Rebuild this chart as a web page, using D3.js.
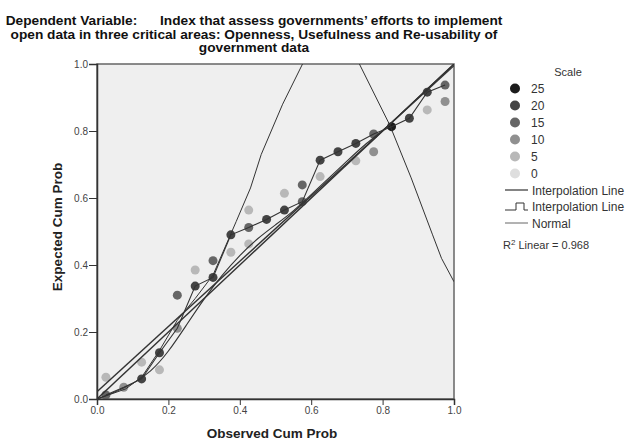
<!DOCTYPE html>
<html>
<head>
<meta charset="utf-8">
<script src="https://cdn.jsdelivr.net/npm/d3@7"></script>
<style>
  body { margin: 0; background: #fff; }
  svg { font-family: 'Liberation Sans', Arial, sans-serif; }
  .axis text { fill: #444; font-size: 10px; }
  .axis path, .axis line { stroke: #333; }
</style>
</head>
<body>
<div id="chart"></div>
<script>
'use strict';

// observed cum prob for each case
var obsX = [0.025, 0.075, 0.125, 0.175, 0.225, 0.275, 0.325, 0.375, 0.425, 0.475,
            0.525, 0.575, 0.625, 0.675, 0.725, 0.775, 0.825, 0.875, 0.925, 0.975];
// expected cum prob, linked series (joined by the marker line)
var linkY = [0.012, 0.035, 0.060, 0.138, 0.211, 0.337, 0.363, 0.490, 0.512, 0.536,
             0.564, 0.589, 0.713, 0.738, 0.763, 0.791, 0.813, 0.838, 0.916, 0.937];
var linkScale = [15, 10, 20, 20, 10, 20, 20, 20, 15, 20,
                 20, 15, 20, 20, 20, 15, 25, 20, 20, 15];
// loose points
var looseX = [0.025, 0.125, 0.175, 0.225, 0.275, 0.325, 0.375, 0.425, 0.425,
              0.525, 0.575, 0.625, 0.725, 0.775, 0.925, 0.975];
var looseY = [0.065, 0.110, 0.087, 0.310, 0.385, 0.413, 0.438, 0.463, 0.564,
              0.614, 0.639, 0.664, 0.711, 0.738, 0.863, 0.888];
var looseScale = [5, 5, 5, 15, 5, 15, 5, 5, 5,
                  5, 15, 5, 5, 10, 5, 10];

var normalX = [0, 0.08, 0.125, 0.175, 0.225, 0.275, 0.325, 0.39, 0.43, 0.46, 0.52, 0.585,
               0.66, 0.735, 0.82, 0.88, 0.94, 0.965, 1.0];
var normalY = [0, 0.03, 0.065, 0.145, 0.235, 0.30, 0.37, 0.53, 0.63, 0.73, 0.88, 1.02,
               1.12, 1.0, 0.818, 0.66, 0.49, 0.42, 0.35];

var smoothX = [0, 0.05, 0.1, 0.15, 0.2, 0.25, 0.3, 0.35, 0.4, 0.45, 0.5,
               0.55, 0.6, 0.65, 0.7, 0.75, 0.8, 0.85, 0.9, 0.95, 1];
var smoothY = [0, 0.02, 0.045, 0.08, 0.14, 0.22, 0.30, 0.37, 0.43, 0.48, 0.52,
               0.56, 0.61, 0.66, 0.71, 0.76, 0.80, 0.85, 0.90, 0.95, 1];

var fitX = [0, 1];
var fitY = [0.022, 0.995];
var diagX = [0, 1];
var diagY = [0, 1];

var scaleLevels = [25, 20, 15, 10, 5, 0];
var scaleColors = ['#1c1c1c', '#444', '#666', '#909090', '#b8b8b8', '#dedede'];
var ticks = [0, 0.2, 0.4, 0.6, 0.8, 1.0];

var titleLines = [
  'Dependent Variable:      Index that assess governments\u2019 efforts to implement',
  'open data in three critical areas: Openness, Usefulness and Re-usability of',
  'government data'
];

var svg = d3.select('#chart').append('svg')
    .attr('width', 633)
    .attr('height', 442);

var x = d3.scaleLinear().domain([0, 1]).range([97, 454]);
var y = d3.scaleLinear().domain([0, 1]).range([399, 64]);
var fill = d3.scaleOrdinal().domain(scaleLevels).range(scaleColors);

svg.append('defs').append('clipPath')
    .attr('id', 'plotclip')
  .append('rect')
    .attr('x', x(0)).attr('y', y(1))
    .attr('width', x(1) - x(0)).attr('height', y(0) - y(1));

svg.append('rect')
    .attr('x', x(0)).attr('y', y(1))
    .attr('width', x(1) - x(0)).attr('height', y(0) - y(1))
    .attr('fill', '#efefef')
    .attr('stroke', '#666')
    .attr('stroke-width', 1.5);

var plot = svg.append('g').attr('clip-path', 'url(#plotclip)');

function pairs(xs, ys) {
  return xs.map(function(d, i) { return [d, ys[i]]; });
}

var line = d3.line()
    .x(function(d) { return x(d[0]); })
    .y(function(d) { return y(d[1]); });

// points first, lines drawn on top
plot.selectAll('.loose')
    .data(pairs(looseX, looseY).map(function(d, i) { return d.concat(looseScale[i]); }))
    .enter().append('circle')
      .attr('class', 'loose')
      .attr('cx', function(d) { return x(d[0]); })
      .attr('cy', function(d) { return y(d[1]); })
      .attr('r', 4.5)
      .attr('fill', function(d) { return fill(d[2]); });

plot.selectAll('.link')
    .data(pairs(obsX, linkY).map(function(d, i) { return d.concat(linkScale[i]); }))
    .enter().append('circle')
      .attr('class', 'link')
      .attr('cx', function(d) { return x(d[0]); })
      .attr('cy', function(d) { return y(d[1]); })
      .attr('r', 4.5)
      .attr('fill', function(d) { return fill(d[2]); });

[
  { d: pairs(diagX, diagY), w: 1.4 },
  { d: pairs(fitX, fitY), w: 1.4 },
  { d: pairs(smoothX, smoothY), w: 1.1, curve: d3.curveBasis },
  { d: pairs(obsX, linkY), w: 1.1 },
  { d: pairs(normalX, normalY), w: 1.0 }
].forEach(function(s) {
  plot.append('path')
      .attr('d', line.curve(s.curve || d3.curveLinear)(s.d))
      .attr('fill', 'none')
      .attr('stroke', '#333')
      .attr('stroke-width', s.w);
});

var xAxis = d3.axisBottom(x)
    .tickValues(ticks)
    .tickSize(6)
    .tickPadding(2)
    .tickFormat(d3.format('.1f'));
var yAxis = d3.axisLeft(y)
    .tickValues(ticks)
    .tickSize(8)
    .tickPadding(1)
    .tickFormat(d3.format('.1f'));

svg.append('g')
    .attr('class', 'axis axis--x')
    .attr('transform', 'translate(0,' + y(0) + ')')
    .call(xAxis)
    .call(function(g) { g.select('.domain').attr('stroke-width', 1.5); });

svg.append('g')
    .attr('class', 'axis axis--y')
    .attr('transform', 'translate(' + x(0) + ',0)')
    .call(yAxis)
    .call(function(g) { g.select('.domain').attr('stroke-width', 1.5); });

svg.append('text')
    .attr('x', 272)
    .attr('y', 438)
    .attr('text-anchor', 'middle')
    .attr('font-size', 13.5)
    .attr('font-weight', 'bold')
    .attr('fill', '#222')
    .text('Observed Cum Prob');

svg.append('text')
    .attr('transform', 'translate(62,227) rotate(-90)')
    .attr('text-anchor', 'middle')
    .attr('font-size', 13.5)
    .attr('font-weight', 'bold')
    .attr('fill', '#222')
    .text('Expected Cum Prob');

svg.append('g').selectAll('text')
    .data(titleLines)
    .enter().append('text')
      .attr('x', 254)
      .attr('y', function(d, i) { return 25 + i * 13.5; })
      .attr('text-anchor', 'middle')
      .attr('font-size', 13.7)
      .attr('font-weight', 'bold')
      .attr('fill', '#111')
      .style('white-space', 'pre')
      .text(function(d) { return d; });

// legend
var legend = svg.append('g').attr('font-size', 12).attr('fill', '#333');

legend.append('text')
    .attr('x', 568).attr('y', 76)
    .attr('text-anchor', 'middle')
    .attr('font-size', 11)
    .text('Scale');

var item = legend.selectAll('.lev')
    .data(scaleLevels)
    .enter().append('g')
      .attr('class', 'lev')
      .attr('transform', function(d, i) { return 'translate(515,' + (88.5 + i * 17) + ')'; });
item.append('circle').attr('r', 5).attr('fill', function(d) { return fill(d); });
item.append('text').attr('x', 16).attr('y', 4.5).text(function(d) { return d; });

legend.append('line')
    .attr('x1', 505).attr('x2', 528).attr('y1', 190).attr('y2', 190)
    .attr('stroke', '#333').attr('stroke-width', 1.2);
legend.append('text').attr('x', 532).attr('y', 194.5).text('Interpolation Line');

legend.append('path')
    .attr('d', 'M505,210H516V203H524V210H528')
    .attr('fill', 'none').attr('stroke', '#333').attr('stroke-width', 1);
legend.append('text').attr('x', 532).attr('y', 211).text('Interpolation Line');

legend.append('line')
    .attr('x1', 505).attr('x2', 528).attr('y1', 223).attr('y2', 223)
    .attr('stroke', '#555').attr('stroke-width', 0.9);
legend.append('text').attr('x', 532).attr('y', 227.5).text('Normal');

var r2 = legend.append('text').attr('x', 503).attr('y', 249).attr('font-size', 11);
r2.append('tspan').text('R');
r2.append('tspan').attr('dy', -4).attr('font-size', 8).text('2');
r2.append('tspan').attr('dy', 4).text(' Linear = 0.968');
</script>
</body>
</html>
